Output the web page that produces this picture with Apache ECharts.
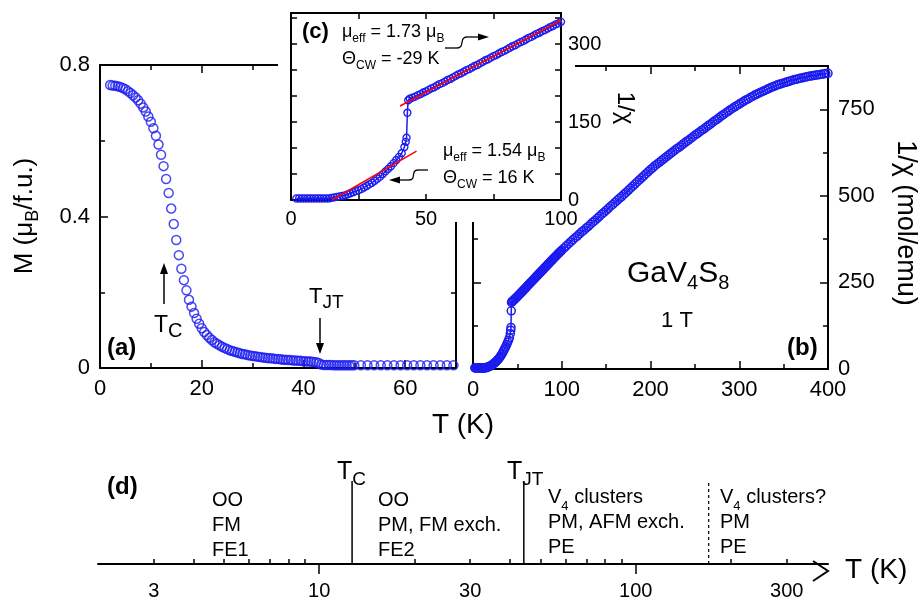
<!DOCTYPE html>
<html>
<head>
<meta charset="utf-8">
<script src="https://cdn.jsdelivr.net/npm/echarts@6.0.0/dist/echarts.min.js"></script>
<style>html,body{margin:0;padding:0;background:#fff}#main{width:921px;height:601px}</style>
</head>
<body>
<div id="main"></div>
<script>
// (a) magnetisation M(T), 1 T
var magT = [2,2.5,3,3.5,4,4.5,5,5.5,6,6.5,7,7.5,8,8.5,9,9.5,10,10.5,11,11.5,
  12,12.5,13,13.5,14,14.5,15,15.5,16,16.5,17,17.5,18,18.5,19,19.5,20,20.5,21,21.5,
  22,22.5,23,23.5,24,24.5,25,25.5,26,26.5,27,27.5,28,28.5,29,29.5,30,30.5,31,31.5,
  32,32.5,33,33.5,34,34.5,35,35.5,36,36.5,37,37.5,38,38.5,39,39.5,40,40.5,41,41.5,
  42,42.5,43,43.5,44,44.5,45,45.5,46,46.5,47,47.5,48,48.5,49,49.5,50,
  51.3,52.6,53.9,55.2,56.5,57.8,59.1,60.4,61.7,63,64.3,65.6,66.9,68.2,69.5];
var magM = [0.747,0.746,0.745,0.744,0.742,0.739,0.736,0.731,0.726,0.720,0.714,0.707,0.698,0.688,0.677,0.664,0.650,0.633,0.613,0.590,
  0.563,0.533,0.499,0.462,0.421,0.380,0.338,0.298,0.262,0.232,0.205,0.180,0.162,0.145,0.130,0.117,0.105,0.095,0.087,0.080,
  0.074,0.068,0.064,0.060,0.056,0.053,0.050,0.047,0.045,0.043,0.041,0.039,0.037,0.036,0.034,0.033,0.032,0.031,0.030,0.029,
  0.028,0.027,0.026,0.026,0.025,0.024,0.024,0.023,0.022,0.022,0.021,0.021,0.020,0.020,0.019,0.019,0.018,0.018,0.017,0.017,
  0.016,0.015,0.013,0.009,0.008,0.008,0.008,0.008,0.007,0.007,0.007,0.007,0.007,0.007,0.007,0.007,0.007,
  0.007,0.007,0.007,0.007,0.007,0.007,0.007,0.007,0.007,0.007,0.007,0.007,0.007,0.007,0.007];

// (b),(c) inverse susceptibility 1/chi(T)
var chiT = [2,3,4,5,6,7,8,9,10,11,12,13,14,15,16,17,18,19,20,21,
  22,23,24,25,26,27,28,29,30,31,32,33,34,35,36,37,38,39,40,41,
  42,42.5,42.8,43.1,43.4,44,
  45,46,47,48,49,50,51,52,53,54,55,56,57,58,59,60,61,62,63,64,
  65,66,67,68,69,70,71,72,73,74,75,76,77,78,79,80,81,82,83,84,
  85,86,87,88,89,90,91,92,93,94,95,96,97,98,99,100,
  102.5,105,107.5,110,112.5,115,117.5,120,122.5,125,127.5,
  130,132.5,135,137.5,140,142.5,145,147.5,150,152.5,155,157.5,160,162.5,165,167.5,170,172.5,175,177.5,
  180,182.5,185,187.5,190,192.5,195,197.5,200,202.5,205,207.5,210,212.5,215,217.5,220,222.5,225,227.5,
  230,232.5,235,237.5,240,242.5,245,247.5,250,252.5,255,257.5,260,262.5,265,267.5,270,272.5,275,277.5,
  280,282.5,285,287.5,290,292.5,295,297.5,300,302.5,305,307.5,310,312.5,315,317.5,320,322.5,325,327.5,
  330,332.5,335,337.5,340,342.5,345,347.5,350,352.5,355,357.5,360,362.5,365,367.5,370,372.5,375,377.5,
  380,382.5,385,387.5,390,392.5,395,397.5,400];
var chiInv = [3,3,3,3,3,3,3,3,3,3,3,3,3,4,5,6,7,8,9,11,
  13,15,17,19,21,24,27,30,33,37,41,45,50,55,60,65,71,77,83,90,
  102,112,120,168,192,195,
  197,199,202,204,207,209,212,215,217,220,223,225,228,231,233,236,239,242,244,247,
  250,252,255,258,260,263,266,269,271,274,277,279,282,285,287,290,293,296,298,301,
  304,306,309,312,314,317,320,322,325,327,330,333,335,338,340,343,
  349,355,361,367,373,379,384,390,396,401,407,
  412,418,424,429,435,441,447,452,458,464,470,475,481,487,493,498,504,510,516,522,
  528,534,540,546,552,558,564,570,576,581,587,592,597,602,607,612,617,622,627,632,
  637,641,646,651,656,660,665,670,675,679,684,689,693,698,703,707,712,717,721,726,
  731,735,740,744,749,753,757,761,765,769,773,777,780,784,787,791,794,797,800,803,
  806,809,812,815,817,820,822,824,826,828,830,832,834,836,837,839,840,842,843,845,
  846,847,848,849,850,851,852,853,854];

// Curie-Weiss fits shown in the inset
var fitLowT = [15.2, 46.5];
var fitLowV = [0, 94];
var fitHighT = [40.4, 100];
var fitHighV = [181, 346];

// (d) phase diagram on a log temperature scale
var phaseT = [12.7, 44.3, 170];
var phaseDashed = [0, 0, 1];
var scaleLabels = [3, 10, 30, 100, 300];
var scaleMinor = [3, 4, 5, 6, 7, 8, 9, 20, 30, 40, 50, 60, 70, 80, 90, 200, 300];
var scaleMajor = [10, 100];

var blue = '#1c1cf0';
var font = '"Liberation Sans", Arial, sans-serif';

function pairs(xs, ys) {
  var out = [];
  for (var i = 0; i < xs.length; i++) out.push([xs[i], ys[i]]);
  return out;
}

function axisLine() {
  return { show: true, onZero: false, lineStyle: { color: '#000', width: 2 } };
}
function ticks(len) {
  return { show: true, inside: true, length: len, lineStyle: { color: '#000', width: 1.5 } };
}
function minor() {
  return { show: true, splitNumber: 2, length: 5, lineStyle: { color: '#000', width: 1.5 } };
}
function labels(size, margin, extra) {
  var o = { show: true, color: '#000', fontSize: size, fontFamily: font, margin: margin };
  for (var k in extra) o[k] = extra[k];
  return o;
}
var noLabel = { show: false };
var noSplit = { show: false };

function tok(size, extra) {
  var o = { fontSize: size, fontFamily: font, fill: '#000', lineHeight: size + 4, verticalAlign: 'top' };
  for (var k in extra) o[k] = extra[k];
  return o;
}
function subTok(size, drop) {
  return { fontSize: size, fontFamily: font, fill: '#000', lineHeight: size, verticalAlign: 'bottom', padding: [drop, 0, 0, 0] };
}
function text(x, y, str, rich, extra) {
  var el = { type: 'text', x: x, y: y, style: { text: str, rich: rich, fill: '#000', fontFamily: font, align: 'left', verticalAlign: 'top' } };
  for (var k in extra) el[k] = extra[k];
  return el;
}
function seg(x1, y1, x2, y2, w, extra) {
  var el = { type: 'line', shape: { x1: x1, y1: y1, x2: x2, y2: y2 }, style: { stroke: '#000', lineWidth: w } };
  for (var k in extra) el[k] = extra[k];
  return el;
}

var insetData = pairs(chiT, chiInv).filter(function (d) { return d[0] <= 100; });

var chart = echarts.init(document.getElementById('main'));

var inset = { zlevel: 1, z: 10 };

var option = {
  animation: false,
  backgroundColor: '#fff',
  grid: [
    { left: 100, top: 65, width: 356, height: 303 },
    { left: 473, top: 66, width: 355, height: 303 },
    { left: 291, top: 13, width: 270, height: 187, zlevel: 1 },
    { left: 98, top: 440, width: 730, height: 131 }
  ],
  xAxis: [
    { gridIndex: 0, type: 'value', min: 0, max: 70, interval: 20, axisLine: axisLine(), axisTick: ticks(8), minorTick: minor(),
      axisLabel: labels(22, 10, { showMaxLabel: false }), splitLine: noSplit },
    { gridIndex: 0, type: 'value', position: 'top', min: 0, max: 70, interval: 20, axisLine: axisLine(), axisTick: ticks(8), minorTick: minor(),
      axisLabel: noLabel, splitLine: noSplit },
    { gridIndex: 1, type: 'value', min: 0, max: 400, interval: 100, axisLine: axisLine(), axisTick: ticks(8), minorTick: minor(),
      axisLabel: labels(22, 10), splitLine: noSplit },
    { gridIndex: 1, type: 'value', position: 'top', min: 0, max: 400, interval: 100, axisLine: axisLine(), axisTick: ticks(8), minorTick: minor(),
      axisLabel: noLabel, splitLine: noSplit },
    { gridIndex: 2, type: 'value', min: 0, max: 100, interval: 25, zlevel: 1, axisLine: axisLine(), axisTick: ticks(6),
      axisLabel: labels(20, 9, { formatter: function (v) { return v % 50 === 0 ? String(v) : ''; } }), splitLine: noSplit },
    { gridIndex: 2, type: 'value', position: 'top', min: 0, max: 100, interval: 25, zlevel: 1, axisLine: axisLine(), axisTick: ticks(6),
      axisLabel: noLabel, splitLine: noSplit },
    { gridIndex: 3, type: 'log', logBase: 10, min: 2, max: 405, axisLine: axisLine(),
      axisTick: { show: true, inside: true, length: 5, customValues: scaleMinor, lineStyle: { color: '#000', width: 1.5 } },
      axisLabel: labels(20, 17, { customValues: scaleLabels }), splitLine: noSplit },
    { gridIndex: 3, type: 'log', logBase: 10, min: 2, max: 405, axisLine: { show: false },
      axisTick: { show: true, inside: true, length: 10, customValues: scaleMajor, lineStyle: { color: '#000', width: 1.5 } },
      axisLabel: noLabel, splitLine: noSplit }
  ],
  yAxis: [
    { gridIndex: 0, type: 'value', min: 0, max: 0.8, interval: 0.4, axisLine: axisLine(), axisTick: ticks(8), minorTick: minor(),
      axisLabel: labels(22, 10, { formatter: function (v) { return v === 0 ? '0' : v.toFixed(1); } }), splitLine: noSplit },
    { gridIndex: 0, type: 'value', position: 'right', min: 0, max: 0.8, interval: 0.4, axisLine: axisLine(), axisTick: ticks(8), minorTick: minor(),
      axisLabel: noLabel, splitLine: noSplit },
    { gridIndex: 1, type: 'value', min: 0, max: 875, interval: 250, axisLine: axisLine(), axisTick: ticks(8), minorTick: minor(),
      axisLabel: noLabel, splitLine: noSplit },
    { gridIndex: 1, type: 'value', position: 'right', min: 0, max: 875, interval: 250, axisLine: axisLine(), axisTick: ticks(8), minorTick: minor(),
      axisLabel: labels(22, 10, { showMaxLabel: false }), splitLine: noSplit },
    { gridIndex: 2, type: 'value', min: 0, max: 360, interval: 50, zlevel: 1, axisLine: axisLine(), axisTick: ticks(6),
      axisLabel: noLabel, splitLine: noSplit },
    { gridIndex: 2, type: 'value', position: 'right', min: 0, max: 360, interval: 50, zlevel: 1, axisLine: axisLine(), axisTick: ticks(6),
      axisLabel: labels(20, 7, { formatter: function (v) { return v % 150 === 0 ? String(v) : ''; } }), splitLine: noSplit },
    { gridIndex: 3, type: 'value', min: 0, max: 1, show: false }
  ],
  series: [
    { type: 'scatter', xAxisIndex: 0, yAxisIndex: 0, data: pairs(magT, magM), symbol: 'circle', symbolSize: 9,
      itemStyle: { color: 'rgba(255,255,255,0)', borderColor: blue, borderWidth: 1.5 } },
    { type: 'line', xAxisIndex: 2, yAxisIndex: 2, data: pairs(chiT, chiInv), symbol: 'circle', symbolSize: 8, showAllSymbol: true,
      itemStyle: { color: 'rgba(255,255,255,0)', borderColor: blue, borderWidth: 1.5 }, lineStyle: { color: blue, width: 1.5 } },
    { type: 'line', xAxisIndex: 4, yAxisIndex: 4, zlevel: 1, data: insetData, symbol: 'circle', symbolSize: 7, showAllSymbol: true,
      itemStyle: { color: 'rgba(255,255,255,0)', borderColor: blue, borderWidth: 1.3 }, lineStyle: { color: blue, width: 1.5 } },
    { type: 'line', xAxisIndex: 4, yAxisIndex: 4, zlevel: 1, z: 5, data: pairs(fitLowT, fitLowV), symbol: 'none',
      lineStyle: { color: '#ff0000', width: 1.5 } },
    { type: 'line', xAxisIndex: 4, yAxisIndex: 4, zlevel: 1, z: 5, data: pairs(fitHighT, fitHighV), symbol: 'none',
      lineStyle: { color: '#ff0000', width: 1.5 } },
    { type: 'custom', xAxisIndex: 6, yAxisIndex: 6, data: pairs(phaseT, phaseDashed).map(function (d) { return [d[0], 0, d[1]]; }),
      encode: { x: 0, y: 1 },
      renderItem: function (params, api) {
        var p = api.coord([api.value(0), 0]);
        var dashed = api.value(2) === 1;
        return { type: 'line', shape: { x1: p[0], y1: p[1], x2: p[0], y2: p[1] - 83 },
          style: { stroke: '#000', lineWidth: dashed ? 1.2 : 1.5, lineDash: dashed ? [3, 3] : null } };
      } }
  ],
  graphic: { elements: [
    // white box behind the inset
    { type: 'rect', zlevel: 1, z: -1, shape: { x: 278, y: 0, width: 297, height: 222 }, style: { fill: '#fff' } },

    // axis titles
    { type: 'text', x: 27, y: 216, rotation: Math.PI / 2,
      style: { text: '{m|M (μ}{s|B}{m|/f.u.)}', rich: { m: tok(26), s: subTok(18, 14) }, fill: '#000', fontFamily: font, align: 'center', verticalAlign: 'middle' } },
    { type: 'text', x: 463, y: 425, style: { text: 'T (K)', fill: '#000', fontSize: 28, fontFamily: font, align: 'center', verticalAlign: 'middle' } },
    { type: 'text', x: 905, y: 223, rotation: -Math.PI / 2, style: { text: '1/χ (mol/emu)', fill: '#000', fontSize: 27, fontFamily: font, align: 'center', verticalAlign: 'middle' } },

    // panel (a) annotations
    { type: 'text', x: 107, y: 336, style: { text: '(a)', fill: '#000', fontSize: 24, fontWeight: 'bold', fontFamily: font } },
    text(154, 314, '{m|T}{s|C}', { m: tok(23), s: subTok(20, 14) }),
    seg(164, 304, 164, 272, 1.5),
    { type: 'polygon', shape: { points: [[160, 274], [164, 263], [168, 274]] }, style: { fill: '#000' } },
    text(309, 286, '{m|T}{s|JT}', { m: tok(22), s: subTok(19, 13) }),
    seg(320, 318, 320, 345, 1.5),
    { type: 'polygon', shape: { points: [[316, 343], [320, 354], [324, 343]] }, style: { fill: '#000' } },

    // panel (b) annotations
    text(627, 259, '{m|GaV}{s|4}{m|S}{s|8}', { m: tok(30), s: subTok(20, 20) }),
    { type: 'text', x: 677, y: 321, style: { text: '1 T', fill: '#000', fontSize: 22, fontFamily: font, align: 'center', verticalAlign: 'middle' } },
    { type: 'text', x: 787, y: 336, style: { text: '(b)', fill: '#000', fontSize: 24, fontWeight: 'bold', fontFamily: font } },

    // inset (c) annotations
    { type: 'text', zlevel: 1, z: 10, x: 302, y: 21, style: { text: '(c)', fill: '#000', fontSize: 22, fontWeight: 'bold', fontFamily: font } },
    text(342, 23, '{m|μ}{s|eff}{m| = 1.73 μ}{s|B}', { m: tok(18), s: subTok(12, 12) }, inset),
    text(342, 50, '{m|Θ}{s|CW}{m| = -29 K}', { m: tok(18), s: subTok(12, 12) }, inset),
    text(443, 142, '{m|μ}{s|eff}{m| = 1.54 μ}{s|B}', { m: tok(18), s: subTok(12, 12) }, inset),
    text(443, 169, '{m|Θ}{s|CW}{m| = 16 K}', { m: tok(18), s: subTok(12, 12) }, inset),
    seg(445, 48, 457, 48, 1.3, inset),
    { type: 'bezierCurve', zlevel: 1, z: 10, shape: { x1: 457, y1: 48, cpx1: 465, cpy1: 48, cpx2: 459, cpy2: 37, x2: 467, y2: 37 }, style: { stroke: '#000', lineWidth: 1.3, fill: null } },
    seg(467, 37, 480, 37, 1.3, inset),
    { type: 'polygon', zlevel: 1, z: 10, shape: { points: [[478, 33.5], [489, 37], [478, 40.5]] }, style: { fill: '#000' } },
    seg(428, 170, 418, 170, 1.3, inset),
    { type: 'bezierCurve', zlevel: 1, z: 10, shape: { x1: 418, y1: 170, cpx1: 410, cpy1: 170, cpx2: 417, cpy2: 180, x2: 409, y2: 180 }, style: { stroke: '#000', lineWidth: 1.3, fill: null } },
    seg(409, 180, 399, 180, 1.3, inset),
    { type: 'polygon', zlevel: 1, z: 10, shape: { points: [[400, 176.5], [389, 180], [400, 183.5]] }, style: { fill: '#000' } },
    { type: 'text', zlevel: 1, z: 10, x: 625, y: 108, rotation: -Math.PI / 2, style: { text: '1/χ', fill: '#000', fontSize: 24, fontFamily: font, align: 'center', verticalAlign: 'middle' } },

    // panel (d) annotations
    { type: 'text', x: 107, y: 475, style: { text: '(d)', fill: '#000', fontSize: 24, fontWeight: 'bold', fontFamily: font } },
    text(337, 460, '{m|T}{s|C}', { m: tok(25), s: subTok(19, 11) }),
    text(507, 460, '{m|T}{s|JT}', { m: tok(25), s: subTok(19, 11) }),
    { type: 'text', x: 212, y: 487.5, style: { text: 'OO\nFM\nFE1', fill: '#000', fontSize: 20, lineHeight: 25, fontFamily: font } },
    { type: 'text', x: 378, y: 487.5, style: { text: 'OO\nPM, FM exch.\nFE2', fill: '#000', fontSize: 20, lineHeight: 25, fontFamily: font } },
    text(548, 487.5, '{m|V}{s|4}{m| clusters}\n{m|PM, AFM exch.}\n{m|PE}', { m: tok(20, { lineHeight: 25 }), s: subTok(13, 12) }),
    text(720, 487.5, '{m|V}{s|4}{m| clusters?}\n{m|PM}\n{m|PE}', { m: tok(20, { lineHeight: 25 }), s: subTok(13, 12) }),
    { type: 'polyline', shape: { points: [[813, 561], [828, 571], [813, 581]] }, style: { stroke: '#000', lineWidth: 2, fill: null } },
    { type: 'text', x: 845, y: 570, style: { text: 'T (K)', fill: '#000', fontSize: 28, fontFamily: font, verticalAlign: 'middle' } }
  ] }
};

chart.setOption(option);
</script>
</body>
</html>
